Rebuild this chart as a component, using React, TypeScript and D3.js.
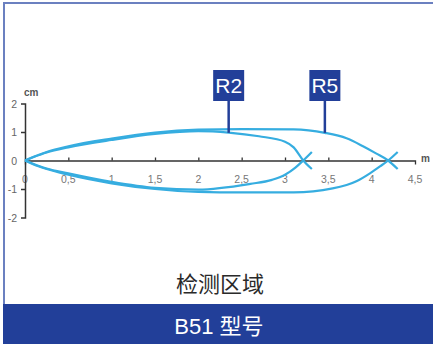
import { useEffect, useRef } from "react";
import * as d3 from "d3";

// x in metres, y in cm
const r2Upper = [
  [0, 0], [0.1, 0.12], [0.25, 0.28], [0.5, 0.46], [1, 0.72], [1.5, 0.93],
  [2, 1.03], [2.35, 0.98], [2.7, 0.85], [3.0, 0.66], [3.1, 0.46], [3.21, 0], [3.31, -0.3],
];
const r2Lower = [
  [0, 0], [0.1, -0.12], [0.25, -0.28], [0.5, -0.45], [1, -0.75], [1.5, -0.96],
  [2, -1.02], [2.6, -0.82], [2.85, -0.68], [3.0, -0.5], [3.12, -0.25], [3.21, 0], [3.31, 0.3],
];
const r5Upper = [
  [0, 0], [0.1, 0.13], [0.25, 0.3], [0.5, 0.5], [1, 0.77], [1.5, 0.98],
  [2, 1.08], [2.5, 1.1], [3.1, 1.09], [3.46, 0.97], [3.71, 0.78], [3.9, 0.5],
  [4.05, 0.25], [4.19, 0], [4.3, -0.3],
];
const r5Lower = [
  [0, 0], [0.1, -0.14], [0.25, -0.3], [0.5, -0.5], [1, -0.8], [1.5, -1.0],
  [2, -1.1], [2.5, -1.12], [3.1, -1.12], [3.55, -0.98], [3.83, -0.72], [3.98, -0.45],
  [4.1, -0.2], [4.19, 0], [4.3, 0.3],
];
const curves = [r2Upper, r2Lower, r5Upper, r5Lower];

const labels = [
  { name: "R2", x: 2.35, y: 0.97 },
  { name: "R5", x: 3.46, y: 0.97 },
];

const xTicks = [0, 0.5, 1, 1.5, 2, 2.5, 3, 3.5, 4, 4.5];
const yTicks = [-2, -1, 0, 1, 2];

const title = "检测区域";
const footer = "B51 型号";

const W = 433;
const H = 344;

const App = () => {
  const svgRef = useRef<SVGSVGElement>(null);

  useEffect(() => {
    const svg = d3.select(svgRef.current);
    svg.selectAll("*").remove();

    const x = d3.scaleLinear().domain([0, 4.5]).range([25, 415]);
    const y = d3.scaleLinear().domain([-2, 2]).range([217.5, 103.5]);

    // frame
    svg.append("rect").attr("x", 3).attr("y", 2).attr("width", W - 3).attr("height", 2).attr("fill", "#6b80c0");
    svg.append("rect").attr("x", 3).attr("y", 2).attr("width", 2).attr("height", 302).attr("fill", "#6b80c0");
    svg.append("rect").attr("x", 3).attr("y", 304).attr("width", W - 3).attr("height", 40).attr("fill", "#223f99");

    // x axis
    const xAxis = d3.axisBottom(x).tickValues(xTicks.slice(1, -1))
      .tickSizeInner(-3).tickSizeOuter(4).tickFormat(() => "");
    const xg = svg.append("g").attr("transform", `translate(0,${y(0)})`).call(xAxis);
    xg.selectAll("path, line").attr("stroke", "#333").attr("stroke-width", 1.3);
    svg.append("g").selectAll("text").data(xTicks).join("text")
      .attr("x", (d) => x(d)).attr("y", y(0) + 22)
      .attr("text-anchor", "middle")
      .attr("font-family", "Liberation Sans, Arial, sans-serif")
      .attr("font-size", 10.5).attr("fill", "#777")
      .text((d) => String(d).replace(".", ","));

    // y axis
    const yAxis = d3.axisLeft(y).tickValues([-1, 1]).tickSizeInner(4).tickSizeOuter(4).tickFormat(() => "");
    const yg = svg.append("g").attr("transform", `translate(${x(0)},0)`).call(yAxis);
    yg.selectAll("path, line").attr("stroke", "#333").attr("stroke-width", 1.5);
    svg.append("g").selectAll("text").data(yTicks).join("text")
      .attr("x", 17).attr("y", (d) => y(d) + 4)
      .attr("text-anchor", "end")
      .attr("font-family", "Liberation Sans, Arial, sans-serif")
      .attr("font-size", 10.5).attr("fill", "#666")
      .text((d) => String(d));

    svg.append("text").attr("x", 24).attr("y", 96)
      .attr("font-family", "Liberation Sans, Arial, sans-serif")
      .attr("font-size", 10).attr("font-weight", "bold").attr("fill", "#555").text("cm");
    svg.append("text").attr("x", 421).attr("y", 162)
      .attr("font-family", "Liberation Sans, Arial, sans-serif")
      .attr("font-size", 10).attr("font-weight", "bold").attr("fill", "#555").text("m");

    // curves
    const line = d3.line<number[]>()
      .x((d) => x(d[0])).y((d) => y(d[1]))
      .curve(d3.curveMonotoneX);
    svg.append("g").selectAll("path").data(curves).join("path")
      .attr("fill", "none").attr("stroke", "#36ade0").attr("stroke-width", 2.2)
      .attr("d", (d) => line(d));

    // labels
    const lg = svg.append("g").selectAll("g").data(labels).join("g");
    lg.append("line")
      .attr("x1", (d) => x(d.x)).attr("x2", (d) => x(d.x))
      .attr("y1", 100).attr("y2", (d) => y(d.y))
      .attr("stroke", "#223f99").attr("stroke-width", 2.5);
    lg.append("rect")
      .attr("x", (d) => x(d.x) - 15.5).attr("y", 70)
      .attr("width", 31).attr("height", 31).attr("fill", "#223f99");
    lg.append("text")
      .attr("x", (d) => x(d.x)).attr("y", 93)
      .attr("text-anchor", "middle")
      .attr("font-family", "Liberation Sans, Arial, sans-serif")
      .attr("font-size", 21).attr("fill", "#fff")
      .text((d) => d.name);

    svg.append("text").attr("x", 220).attr("y", 292)
      .attr("text-anchor", "middle")
      .attr("font-family", "Noto Sans CJK SC, sans-serif")
      .attr("font-size", 22).attr("fill", "#2a2a2a").text(title);
    svg.append("text").attr("x", 219).attr("y", 334)
      .attr("text-anchor", "middle")
      .attr("font-family", "Liberation Sans, Noto Sans CJK SC, sans-serif")
      .attr("font-size", 22).attr("fill", "#fff").text(footer);
  }, []);

  return (
    <svg
      ref={svgRef}
      width={W}
      height={H}
      viewBox={`0 0 ${W} ${H}`}
      style={{ position: "absolute", left: 0, top: 0, background: "#fff" }}
    />
  );
};

export default App;
